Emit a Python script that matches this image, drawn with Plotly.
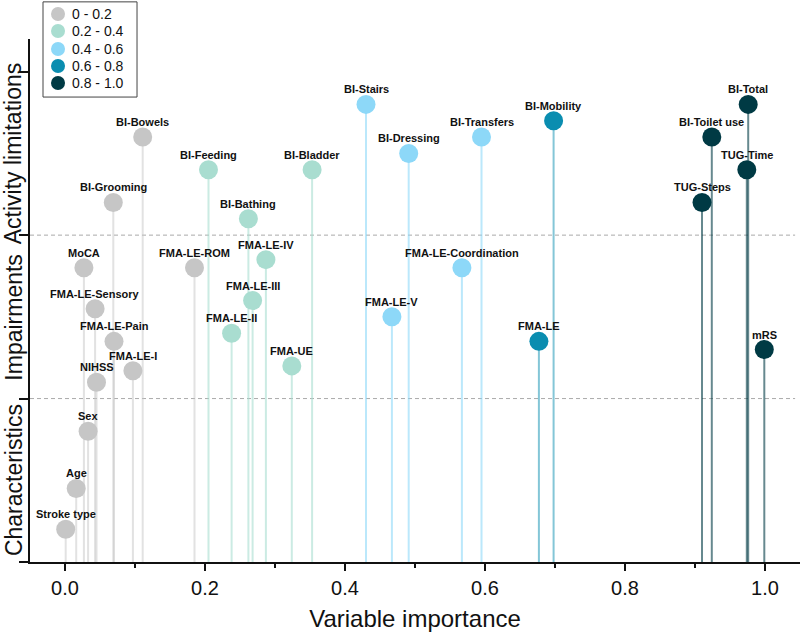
import plotly.graph_objects as go

names = ["BI-Total", "BI-Stairs", "BI-Mobility", "BI-Bowels", "BI-Transfers", "BI-Toilet use",
         "BI-Dressing", "BI-Feeding", "BI-Bladder", "TUG-Time", "BI-Grooming", "TUG-Steps",
         "BI-Bathing", "MoCA", "FMA-LE-ROM", "FMA-LE-IV", "FMA-LE-Coordination",
         "FMA-LE-Sensory", "FMA-LE-III", "FMA-LE-V", "FMA-LE-II", "FMA-LE-Pain", "FMA-LE",
         "mRS", "FMA-UE", "FMA-LE-I", "NIHSS", "Sex", "Age", "Stroke type"]
importance = [0.976, 0.430, 0.698, 0.111, 0.595, 0.924,
              0.491, 0.205, 0.353, 0.974, 0.069, 0.910,
              0.262, 0.027, 0.185, 0.287, 0.567,
              0.043, 0.268, 0.467, 0.238, 0.070, 0.677,
              0.999, 0.324, 0.097, 0.045, 0.033, 0.016, 0.001]
position = [2.80, 2.80, 2.70, 2.60, 2.60, 2.60,
            2.50, 2.40, 2.40, 2.40, 2.20, 2.20,
            2.10, 1.80, 1.80, 1.85, 1.80,
            1.55, 1.60, 1.50, 1.40, 1.35, 1.35,
            1.30, 1.20, 1.17, 1.10, 0.80, 0.45, 0.20]
bin_labels = ["0 - 0.2", "0.2 - 0.4", "0.4 - 0.6", "0.6 - 0.8", "0.8 - 1.0"]
bin_edges = [0.0, 0.2, 0.4, 0.6, 0.8, 1.01]
bin_colors = ["#c6c6c6", "#a9ddd0", "#8dd8f8", "#0a8db0", "#003a44"]
stem_colors = ["rgba(198,198,198,0.5)", "rgba(169,221,208,0.6)", "rgba(141,216,248,0.6)",
               "rgba(10,141,176,0.5)", "rgba(0,58,68,0.6)"]
section_labels = ["Characteristics", "Impairments", "Activity limitations"]

FONT = "Liberation Sans, Arial, sans-serif"

def bin_of(v):
    for i in range(5):
        if bin_edges[i] <= v < bin_edges[i + 1]:
            return i
    return 4

groups = [bin_of(v) for v in importance]

fig = go.Figure()

# stems
for g in range(5):
    xs, ys = [], []
    for v, p, gg in zip(importance, position, groups):
        if gg == g:
            xs += [v, v, None]
            ys += [0, p, None]
    fig.add_trace(go.Scatter(x=xs, y=ys, mode="lines", line=dict(color=stem_colors[g], width=2),
                             showlegend=False, hoverinfo="skip"))

# markers
for g in range(5):
    xs = [v for v, gg in zip(importance, groups) if gg == g]
    ys = [p for p, gg in zip(position, groups) if gg == g]
    fig.add_trace(go.Scatter(x=xs, y=ys, mode="markers", name=bin_labels[g],
                             marker=dict(color=bin_colors[g], size=19, line=dict(width=0)),
                             showlegend=False))

# point labels
for n, v, p in zip(names, importance, position):
    fig.add_annotation(x=v, y=p, xref="x", yref="y", text="<b>%s</b>" % n, showarrow=False,
                       xanchor="center", yanchor="middle", yshift=15,
                       font=dict(family=FONT, size=11, color="#111"))

# section labels
for i, lab in enumerate(section_labels):
    fig.add_annotation(x=-0.021, xref="paper", y=i + 0.5, yref="y", text=lab, textangle=-90,
                       showarrow=False, xanchor="center", yanchor="middle",
                       font=dict(family=FONT, size=23, color="#111"))

for yy in [1, 2]:
    fig.add_shape(type="line", xref="x", yref="y", x0=-0.05, x1=1.043, y0=yy, y1=yy,
                  line=dict(color="#aaaaaa", width=1, dash="4px,3px"), layer="below")

# manual legend box
fig.add_shape(type="rect", xref="paper", yref="paper", x0=0.0169, x1=0.139, y0=0.889, y1=1.071,
              line=dict(color="#444", width=1), fillcolor="white", layer="above")
leg_y = [1.0478, 1.0153, 0.9809, 0.9484, 0.9159]
for g in range(5):
    fig.add_shape(type="circle", xref="paper", yref="paper", xsizemode="pixel", ysizemode="pixel",
                  xanchor=0.0364, yanchor=leg_y[g], x0=-7, x1=7, y0=-7, y1=7,
                  fillcolor=bin_colors[g], line=dict(width=0), layer="above")
    fig.add_annotation(x=0.0519, y=leg_y[g], xref="paper", yref="paper", text=bin_labels[g],
                       showarrow=False, xanchor="left", yanchor="middle",
                       font=dict(family=FONT, size=14, color="#111"))

fig.update_layout(
    width=800, height=637,
    margin=dict(l=30, r=0, t=39, b=75, autoexpand=False),
    plot_bgcolor="white", paper_bgcolor="white",
    font=dict(family=FONT, color="#111"),
    showlegend=False,
    xaxis=dict(range=[-0.05, 1.05], tickvals=[0, 0.2, 0.4, 0.6, 0.8, 1.0],
               ticktext=["0.0", "0.2", "0.4", "0.6", "0.8", "1.0"],
               ticks="outside", ticklen=7, tickwidth=1.5, tickcolor="#111",
               minor=dict(tickvals=[0.1, 0.3, 0.5, 0.7, 0.9], ticks="outside", ticklen=4,
                          tickwidth=1.5, tickcolor="#111"),
               showline=True, linecolor="#111", linewidth=2, showgrid=False, zeroline=False,
               tickfont=dict(size=20, family=FONT),
               title=dict(text="Variable importance", font=dict(size=24, family=FONT), standoff=12)),
    yaxis=dict(range=[0, 3.2], tickvals=[0, 1, 2, 3], showticklabels=False,
               ticks="outside", ticklen=9, tickwidth=2, tickcolor="#111",
               showline=True, linecolor="#111", linewidth=2, showgrid=False, zeroline=False),
)

fig.write_html("out.html", config={"displayModeBar": False},
               post_script="document.body.style.margin='0px';")
